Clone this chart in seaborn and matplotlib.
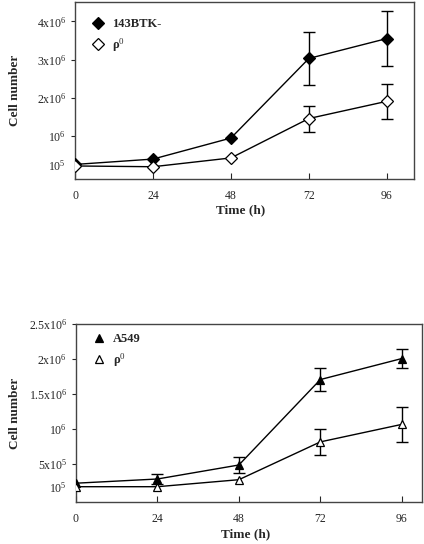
import numpy as np
import pandas as pd
import matplotlib
matplotlib.use('Agg')
import matplotlib.pyplot as plt
import seaborn as sns

# ── data (cell number, axis units) ──────────────────────────
time_h = [0, 24, 48, 72, 96]

btk_mean = [0.26e6, 0.40e6, 0.95e6, 3.03e6, 3.55e6]
btk_err = [0, 0, 0, 0.70e6, 0.71e6]
btk_rho_mean = [0.22e6, 0.20e6, 0.43e6, 1.46e6, 1.91e6]
btk_rho_err = [0, 0, 0, 0.34e6, 0.46e6]

a549_mean = [0.23e6, 0.29e6, 0.49e6, 1.71e6, 2.01e6]
a549_err = [0, 0.07e6, 0.12e6, 0.17e6, 0.14e6]
a549_rho_mean = [0.18e6, 0.18e6, 0.28e6, 0.82e6, 1.07e6]
a549_rho_err = [0, 0, 0, 0.19e6, 0.25e6]

top_ticks = [0.24e6, 1e6, 2e6, 3e6, 4e6]
top_labels = ['10$^5$', '10$^6$', '2x10$^6$', '3x10$^6$', '4x10$^6$']
bot_ticks = [0.18e6, 0.5e6, 1e6, 1.5e6, 2e6, 2.5e6]
bot_labels = ['10$^5$', '5x10$^5$', '10$^6$', '1.5x10$^6$', '2x10$^6$', '2.5x10$^6$']

sns.set_style('ticks')
plt.rcParams['font.family'] = ['Liberation Serif', 'DejaVu Serif']
plt.rcParams['mathtext.fontset'] = 'custom'
plt.rcParams['mathtext.rm'] = 'Liberation Serif'
plt.rcParams['mathtext.it'] = 'Liberation Serif:italic'
plt.rcParams['mathtext.bf'] = 'Liberation Serif:bold'

fig = plt.figure(figsize=(4.24, 5.44), dpi=100)
ax1 = fig.add_axes([0.177, 0.671, 0.799, 0.325])
ax2 = fig.add_axes([0.179, 0.077, 0.816, 0.327])


def draw_panel(ax, series, yticks, ylabels, ylim, xmax, leg_y):
    for mean, err, marker, face, label in series:
        df = pd.DataFrame({'time': time_h, 'cells': mean})
        sns.lineplot(data=df, x='time', y='cells', ax=ax, color='black',
                     linewidth=1, marker=marker, markersize=6,
                     markerfacecolor=face, markeredgecolor='black',
                     markeredgewidth=0.9, label=label, zorder=3)
        t = [x for x, e in zip(time_h, err) if e > 0]
        m = [v for v, e in zip(mean, err) if e > 0]
        e = [e for e in err if e > 0]
        ax.errorbar(t, m, yerr=e, fmt='none', ecolor='black',
                    elinewidth=1, capsize=4, capthick=1, zorder=2)

    ax.set_xlim(0, xmax)
    ax.set_ylim(*ylim)
    ax.set_xticks(time_h)
    ax.set_xticklabels([str(t) for t in time_h])
    ax.set_yticks(yticks)
    ax.set_yticklabels(ylabels)
    ax.yaxis.get_major_ticks()[0].tick1line.set_visible(False)
    ax.tick_params(axis='x', direction='in', length=4, labelsize=8.5, pad=8)
    ax.tick_params(axis='y', direction='out', length=3, labelsize=8.5)
    for sp in ax.spines.values():
        sp.set_visible(True)
        sp.set_color('#444444')
        sp.set_linewidth(1)
    ax.set_xlabel('Time (h)', fontsize=9.5, fontweight='bold')
    ax.xaxis.set_label_coords(0.49, -0.145)
    ax.set_ylabel('Cell number', fontsize=9.5, fontweight='bold')
    ax.yaxis.set_label_coords(-0.16, 0.5)
    leg = ax.legend(loc='upper left', frameon=False, fontsize=9,
                    handlelength=0.6, handletextpad=0.8,
                    borderaxespad=0.6, bbox_to_anchor=(0.02, leg_y))
    for line in leg.get_lines():
        line.set_linestyle('none')
    for txt in leg.get_texts():
        txt.set_fontweight('bold')


draw_panel(ax1,
           [(btk_mean, btk_err, 'D', 'black', '143BTK-'),
            (btk_rho_mean, btk_rho_err, 'D', 'white', 'ρ$^0$')],
           top_ticks, top_labels, (-0.12e6, 4.5e6), 104.3, 0.98)

draw_panel(ax2,
           [(a549_mean, a549_err, '^', 'black', 'A549'),
            (a549_rho_mean, a549_rho_err, '^', 'white', 'ρ$^0$')],
           bot_ticks, bot_labels, (-0.04e6, 2.5e6), 101.9, 1.02)

fig.savefig('out.png', dpi=100)
